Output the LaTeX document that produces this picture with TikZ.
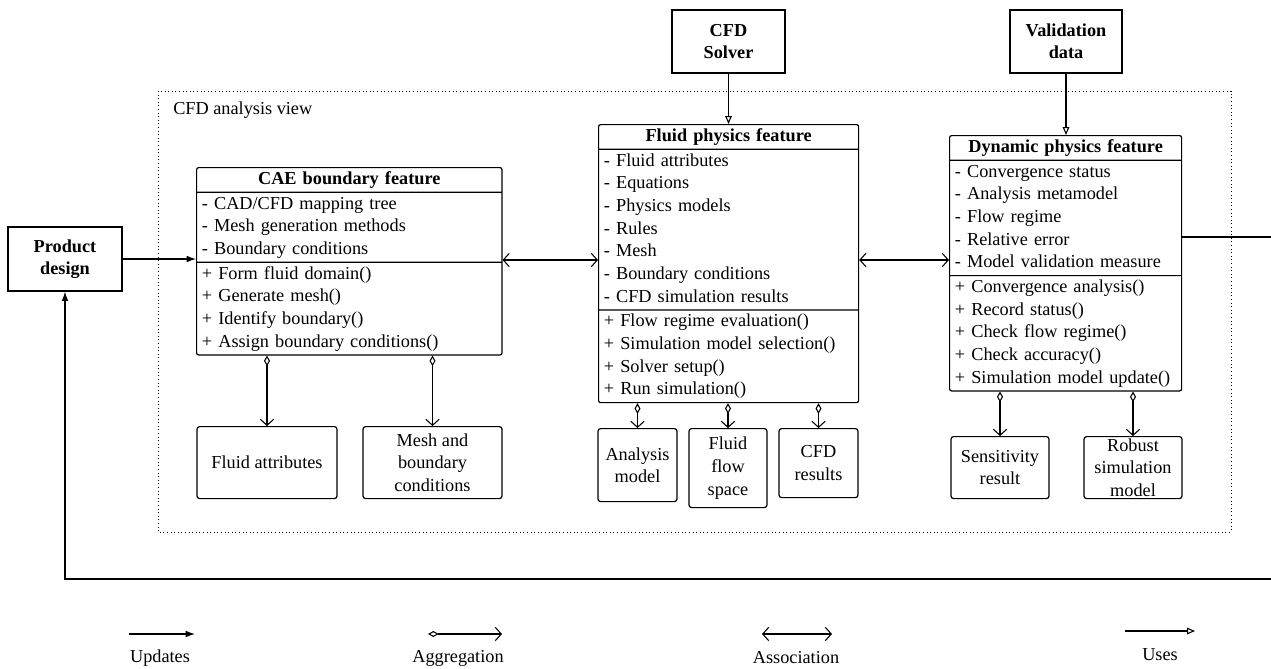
\documentclass[tikz,border=0pt]{standalone}
\usepackage{fontspec}
\setmainfont{Liberation Serif}
\usetikzlibrary{arrows.meta, shapes.multipart, positioning}

\tikzset{
  classbox/.style={draw, line width=0.9pt, rounded corners=1.5pt, rectangle split, rectangle split parts=3,
    inner xsep=4pt, inner ysep=0.3pt, align=left, anchor=north west},
  leafbox/.style={draw, line width=0.9pt, rounded corners=2pt, align=center, inner sep=0pt, anchor=north},
  extbox/.style={draw, line width=0.9pt, align=center, inner sep=0pt, font=\fontsize{13.7}{16.5}\selectfont\bfseries},
  updates/.style={line width=0.8pt, -{Latex[length=7pt,width=5pt]}},
  aggreg/.style={line width=0.8pt, {Diamond[open,length=8pt,width=4.5pt]}-{Straight Barb[length=4.5pt,width=10pt]}},
  assoc/.style={line width=0.8pt, {Straight Barb[length=4.5pt,width=10pt]}-{Straight Barb[length=4.5pt,width=10pt]}},
  uses/.style={line width=0.8pt, -{Triangle[open,length=6pt,width=5pt]}},
}
\newcommand{\ctitle}[1]{\strut\hspace*{\fill}\textbf{#1}\hspace*{\fill}\null}

\begin{document}
\begin{tikzpicture}[x=0.75pt, y=-0.75pt, font=\fontsize{13.7}{17}\selectfont]
  \useasboundingbox (0,0) rectangle (1271,668);
  \clip (0,0) rectangle (1271,668);

  % view frame
  \draw[dotted, line width=0.7pt] (158,91) rectangle (1231,532);
  \node[anchor=west, inner sep=0pt] (viewlbl) at (173,110) {CFD analysis view};

  % outside the view
  \node[extbox, minimum width=85.5pt, minimum height=48pt] (prod) at (65,259) {Product\\design};
  \node[extbox, minimum width=84.75pt, minimum height=47.25pt] (solver) at (728.5,41.5) {CFD\\Solver};
  \node[extbox, minimum width=84pt, minimum height=47.25pt] (valid) at (1066,41.5) {Validation\\data};

  % feature classes
  \node[classbox, text width=221pt] (cae) at (196,167) {\ctitle{CAE boundary feature}
    \nodepart{two}\strut- CAD/CFD mapping tree\\\strut- Mesh generation methods\\\strut- Boundary conditions
    \nodepart{three}\strut+ Form fluid domain()\\\strut+ Generate mesh()\\\strut+ Identify boundary()\\\strut+ Assign boundary conditions()};
  \node[classbox, text width=187pt] (fluid) at (598,124) {\ctitle{Fluid physics feature}
    \nodepart{two}\strut- Fluid attributes\\\strut- Equations\\\strut- Physics models\\\strut- Rules\\\strut- Mesh\\\strut- Boundary conditions\\\strut- CFD simulation results
    \nodepart{three}\strut+ Flow regime evaluation()\\\strut+ Simulation model selection()\\\strut+ Solver setup()\\\strut+ Run simulation()};
  \node[classbox, text width=166pt] (dyn) at (949,135) {\ctitle{Dynamic physics feature}
    \nodepart{two}\strut- Convergence status\\\strut- Analysis metamodel\\\strut- Flow regime\\\strut- Relative error\\\strut- Model validation measure
    \nodepart{three}\strut+ Convergence analysis()\\\strut+ Record status()\\\strut+ Check flow regime()\\\strut+ Check accuracy()\\\strut+ Simulation model update()};

  % parts
  \node[leafbox, minimum width=105pt, minimum height=54pt] (fattr) at (267,426) {Fluid attributes};
  \node[leafbox, minimum width=104.25pt, minimum height=54pt] (meshbc) at (432.5,426) {Mesh and\\boundary\\conditions};
  \node[leafbox, minimum width=59.25pt, minimum height=54.75pt] (amodel) at (637.5,428) {Analysis\\model};
  \node[leafbox, minimum width=58.5pt, minimum height=59.25pt] (fspace) at (728,428) {Fluid\\flow\\space};
  \node[leafbox, minimum width=59.25pt, minimum height=51.75pt] (cfdres) at (818.5,428) {CFD\\results};
  \node[leafbox, minimum width=73.5pt, minimum height=46.5pt] (sens) at (1000,436) {Sensitivity\\result};
  \node[leafbox, minimum width=73.5pt, minimum height=46.5pt] (robust) at (1133,436) {Robust\\simulation\\model};

  % connectors
  \draw[updates] (prod.east) -- (cae.west |- prod.east);
  \draw[uses] (solver.south) -- (fluid.north -| solver.south);
  \draw[uses] (valid.south) -- (dyn.north -| valid.south);
  \draw[assoc] (cae.east |- 0,260) -- (fluid.west |- 0,260);
  \draw[assoc] (fluid.east |- 0,260) -- (dyn.west |- 0,260);
  \draw[aggreg] (cae.south -| fattr.north) -- (fattr.north);
  \draw[aggreg] (cae.south -| meshbc.north) -- (meshbc.north);
  \draw[aggreg] (fluid.south -| amodel.north) -- (amodel.north);
  \draw[aggreg] (fluid.south -| fspace.north) -- (fspace.north);
  \draw[aggreg] (fluid.south -| cfdres.north) -- (cfdres.north);
  \draw[aggreg] (dyn.south -| sens.north) -- (sens.north);
  \draw[aggreg] (dyn.south -| robust.north) -- (robust.north);
  \coordinate (rc) at (1290,579);
  \draw[updates] (dyn.east |- 0,237) -- (rc |- 0,237) -- (rc) -- (prod.south |- rc) -- (prod.south);

  % legend
  \coordinate (l1a) at (129,634); \coordinate (l1b) at (195,634);
  \coordinate (l2a) at (428,634); \coordinate (l2b) at (502,634);
  \coordinate (l3a) at (762,634); \coordinate (l3b) at (832,634);
  \coordinate (l4a) at (1125,631); \coordinate (l4b) at (1195,631);
  \draw[updates] (l1a) -- (l1b);
  \draw[aggreg] (l2a) -- (l2b);
  \draw[assoc] (l3a) -- (l3b);
  \draw[uses] (l4a) -- (l4b);
  \node (lupd) at (160,658) {Updates};
  \node (lagg) at (458,658) {Aggregation};
  \node (lass) at (796,658) {Association};
  \node (luse) at (1160,655) {Uses};
\end{tikzpicture}
\end{document}
